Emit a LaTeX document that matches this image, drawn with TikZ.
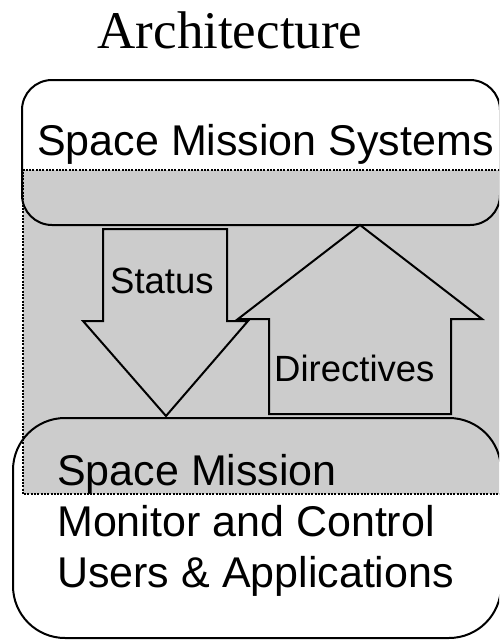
\documentclass[tikz,border=0pt]{standalone}
\usepackage{fontspec}
\setmainfont{Liberation Serif}
\setsansfont{Liberation Sans}
\begin{document}
\begin{tikzpicture}[x=1pt,y=-1pt,
  box/.style={draw=black,line width=2pt},
  arrowshape/.style={draw=black,fill=black!20,line width=2pt,line join=miter},
  sanslabel/.style={font=\sffamily\fontsize{36.5}{40}\selectfont,inner sep=0pt,anchor=base west},
  biglabel/.style={font=\sffamily\fontsize{43}{50}\selectfont,inner sep=0pt,anchor=base west}]
\useasboundingbox (0,0) rectangle (499,640);
\clip (0,0) rectangle (499,640);
% gray band
\fill[black!20] (23,170) rectangle (503,494);
% title
\node[font=\rmfamily\fontsize{53}{56}\selectfont,inner sep=0pt,anchor=base] (title) at (230,48) {Architecture};
% top box
\draw[box,rounded corners=30pt] (22,80) rectangle (500,225);
\node[biglabel] (sys) at (37,155) {Space Mission Systems};
% bottom box
\draw[box,rounded corners=52pt] (13,418) rectangle (501,638);
\node[biglabel] (u1) at (57,485) {Space Mission};
\node[biglabel] (u2) at (57,536) {Monitor and Control};
\node[biglabel] (u3) at (57,587) {Users \& Applications};
% Directives arrow (up)
\draw[arrowshape] (269,414) -- (269,319) -- (238,319) -- (360,225) -- (482,319) -- (451,319) -- (451,414) -- cycle;
% Status arrow (down)
\draw[arrowshape] (103,229) -- (227,229) -- (227,321) -- (248,321) -- (166,416) -- (83,321) -- (103,321) -- cycle;
\node[sanslabel] (st) at (110,293) {Status};
\node[sanslabel] (dir) at (274,381) {Directives};
% dotted border of gray band
\draw[black,line width=1.3pt,dash pattern=on 2pt off 1.3pt] (503,170) -- (23,170) -- (23,494) -- (503,494);
\end{tikzpicture}
\end{document}
